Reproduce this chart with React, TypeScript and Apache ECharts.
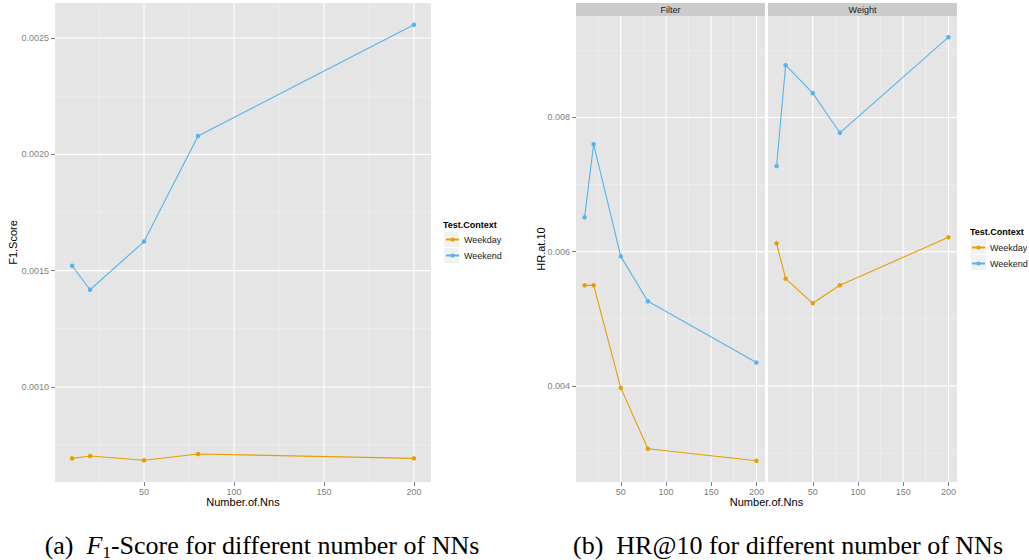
import React, { useEffect, useRef } from 'react';
import * as echarts from 'echarts';

// Number of nearest neighbours used by the recommender
const nns = [10, 20, 50, 80, 200];

// (a) F1-score per test context
const f1Weekday = [0.000693, 0.000703, 0.000685, 0.000712, 0.000693];
const f1Weekend = [0.001521, 0.001418, 0.001625, 0.002079, 0.002557];

// (b) HR@10 per neighbourhood strategy and test context
const hrFilterWeekday = [0.005498, 0.0055, 0.00397, 0.003062, 0.002883];
const hrFilterWeekend = [0.006511, 0.007602, 0.00593, 0.00526, 0.004347];
const hrWeightWeekday = [0.006124, 0.005598, 0.00523, 0.0055, 0.006213];
const hrWeightWeekend = [0.007275, 0.008779, 0.008362, 0.007771, 0.009196];

const contexts = ['Weekday', 'Weekend'];
const facets = ['Filter', 'Weight'];
const contextColors = ['#E69F00', '#56B4E9'];

// Axis breaks
const xMajorTicks = [50, 100, 150, 200];
const xMinorTicks = [25, 75, 125, 175];
const f1MajorTicks = [0.001, 0.0015, 0.002, 0.0025];
const f1MinorTicks = [0.00075, 0.00125, 0.00175, 0.00225];
const hrMajorTicks = [0.004, 0.006, 0.008];
const hrMinorTicks = [0.003, 0.005, 0.007, 0.009];

const SANS = "'Liberation Sans', Arial, Helvetica, sans-serif";
const SERIF = "'Liberation Serif', 'Times New Roman', serif";
const TICK_GREY = '#7F7F7F';

// ggplot-style 5% expansion of a continuous range
function padded(values: number[]): [number, number] {
  const lo = Math.min(...values);
  const hi = Math.max(...values);
  const pad = (hi - lo) * 0.05;
  return [lo - pad, hi + pad];
}

const xRange = padded(nns);
const f1Range = padded([...f1Weekday, ...f1Weekend]);
const hrRange = padded([...hrFilterWeekday, ...hrFilterWeekend, ...hrWeightWeekday, ...hrWeightWeekend]);

const minorLine = { color: '#F2F2F2', width: 0.6, type: 'solid' };
const majorLine = { color: '#FFFFFF', width: 1.1, type: 'solid' };

// One straight panel grid line, drawn through the panel's own axes
function ruleSeries(idx: number, points: number[][], style: object) {
  return {
    type: 'line',
    xAxisIndex: idx,
    yAxisIndex: idx,
    silent: true,
    z: 1,
    symbol: 'none',
    showSymbol: false,
    lineStyle: style,
    emphasis: { disabled: true },
    tooltip: { show: false },
    data: points,
  };
}

function panelGrid(idx: number, yRange: [number, number], yMinor: number[], yMajor: number[]) {
  const v = (x: number, style: object) => ruleSeries(idx, [[x, yRange[0]], [x, yRange[1]]], style);
  const h = (y: number, style: object) => ruleSeries(idx, [[xRange[0], y], [xRange[1], y]], style);
  return [
    ...xMinorTicks.map((x) => v(x, minorLine)),
    ...yMinor.map((y) => h(y, minorLine)),
    ...xMajorTicks.map((x) => v(x, majorLine)),
    ...yMajor.map((y) => h(y, majorLine)),
  ];
}

function contextSeries(idx: number, ctx: number, values: number[]) {
  return {
    type: 'line',
    name: contexts[ctx],
    xAxisIndex: idx,
    yAxisIndex: idx,
    z: 3,
    data: nns.map((n, i) => [n, values[i]]),
    symbol: 'circle',
    symbolSize: 4.5,
    showSymbol: true,
    lineStyle: { color: contextColors[ctx], width: 1.1 },
    itemStyle: { color: contextColors[ctx] },
  };
}

function xAxisFor(idx: number, name?: string) {
  return {
    type: 'value',
    gridIndex: idx,
    min: xRange[0],
    max: xRange[1],
    name: name ?? '',
    nameLocation: 'middle',
    nameGap: 14,
    nameMoveOverlap: false,
    nameTextStyle: { fontFamily: SANS, fontSize: 11, color: '#000' },
    axisLine: { show: false },
    axisTick: { show: true, customValues: xMajorTicks, length: 4, lineStyle: { color: TICK_GREY, width: 1 } },
    axisLabel: { customValues: xMajorTicks, color: TICK_GREY, fontSize: 9, fontFamily: SANS, margin: 5 },
    splitLine: { show: false },
  };
}

function yAxisFor(idx: number, range: [number, number], ticks: number[], digits: number, name: string, gap: number, labelled: boolean) {
  return {
    type: 'value',
    gridIndex: idx,
    min: range[0],
    max: range[1],
    name,
    nameLocation: 'middle',
    nameGap: gap,
    nameRotate: 90,
    nameMoveOverlap: false,
    nameTextStyle: { fontFamily: SANS, fontSize: 11, color: '#000' },
    axisLine: { show: false },
    axisTick: { show: labelled, customValues: ticks, length: 4, lineStyle: { color: TICK_GREY, width: 1 } },
    axisLabel: {
      show: labelled,
      customValues: ticks,
      color: TICK_GREY,
      fontSize: 9,
      fontFamily: SANS,
      margin: 6,
      formatter: (v: number) => v.toFixed(digits),
    },
    splitLine: { show: false },
  };
}

function legendFor(left: number, top: number) {
  return {
    data: contexts,
    orient: 'vertical',
    left,
    top,
    padding: 0,
    itemWidth: 13,
    itemHeight: 5,
    itemGap: 7,
    selectedMode: false,
    textStyle: { fontFamily: SANS, fontSize: 9, color: '#1A1A1A' },
  };
}

function legendDecor(x: number, y: number) {
  return [
    {
      type: 'text',
      x,
      y,
      style: { text: 'Test.Context', font: `bold 9px ${SANS}`, fill: '#000', align: 'left', verticalAlign: 'middle' },
    },
    { type: 'rect', shape: { x: x + 1, y: y + 7, width: 15, height: 15 }, style: { fill: '#F2F2F2' } },
    { type: 'rect', shape: { x: x + 1, y: y + 23, width: 15, height: 15 }, style: { fill: '#F2F2F2' } },
  ];
}

function strip(x: number, width: number, label: string) {
  return [
    { type: 'rect', shape: { x, y: 3, width, height: 13 }, style: { fill: '#CCCCCC' } },
    {
      type: 'text',
      x: x + width / 2,
      y: 9.5,
      style: { text: label, font: `9px ${SANS}`, fill: '#1A1A1A', align: 'center', verticalAlign: 'middle' },
    },
  ];
}

const captionRich = {
  n: { font: `26px ${SERIF}`, fill: '#000' },
  f: { font: `italic 26px ${SERIF}`, fill: '#000' },
  s: { font: `17px ${SERIF}`, fill: '#000', verticalAlign: 'bottom', lineHeight: 31 },
};

export default function App() {
  const ref = useRef<HTMLDivElement>(null);

  useEffect(() => {
    if (!ref.current) return;
    const chart = echarts.init(ref.current, undefined, { renderer: 'svg' });
    chart.setOption({
      animation: false,
      backgroundColor: '#FFFFFF',
      textStyle: { fontFamily: SANS },
      grid: [
        { left: 55, top: 3, width: 376, height: 479, show: true, backgroundColor: '#E5E5E5', borderWidth: 0, containLabel: false },
        { left: 576, top: 16, width: 189, height: 466, show: true, backgroundColor: '#E5E5E5', borderWidth: 0, containLabel: false },
        { left: 768, top: 16, width: 189, height: 466, show: true, backgroundColor: '#E5E5E5', borderWidth: 0, containLabel: false },
      ],
      xAxis: [xAxisFor(0, 'Number.of.Nns'), xAxisFor(1), xAxisFor(2)],
      yAxis: [
        yAxisFor(0, f1Range, f1MajorTicks, 4, 'F1.Score', 37, true),
        yAxisFor(1, hrRange, hrMajorTicks, 3, 'HR.at.10', 30, true),
        yAxisFor(2, hrRange, hrMajorTicks, 3, '', 30, false),
      ],
      legend: [legendFor(445, 235), legendFor(971, 243)],
      series: [
        ...panelGrid(0, f1Range, f1MinorTicks, f1MajorTicks),
        ...panelGrid(1, hrRange, hrMinorTicks, hrMajorTicks),
        ...panelGrid(2, hrRange, hrMinorTicks, hrMajorTicks),
        contextSeries(0, 0, f1Weekday),
        contextSeries(0, 1, f1Weekend),
        contextSeries(1, 0, hrFilterWeekday),
        contextSeries(1, 1, hrFilterWeekend),
        contextSeries(2, 0, hrWeightWeekday),
        contextSeries(2, 1, hrWeightWeekend),
      ],
      graphic: [
        ...legendDecor(443, 225),
        ...legendDecor(970, 232),
        ...strip(576, 189, facets[0]),
        ...strip(768, 189, facets[1]),
        {
          type: 'text',
          x: 766.5,
          y: 502,
          style: { text: 'Number.of.Nns', font: `11px ${SANS}`, fill: '#000', align: 'center', verticalAlign: 'middle' },
        },
        {
          type: 'text',
          x: 262,
          y: 545,
          style: {
            text: '{n|(a)  }{f|F}{s|1}{n|-Score for different number of NNs}',
            rich: captionRich,
            align: 'center',
            verticalAlign: 'middle',
          },
        },
        {
          type: 'text',
          x: 788,
          y: 545,
          style: {
            text: '{n|(b)  HR@10 for different number of NNs}',
            rich: captionRich,
            align: 'center',
            verticalAlign: 'middle',
          },
        },
      ],
    });
    return () => chart.dispose();
  }, []);

  return (
    <div
      ref={ref}
      style={{ position: 'fixed', left: 0, top: 0, width: 1029, height: 560, background: '#FFFFFF' }}
    />
  );
}
